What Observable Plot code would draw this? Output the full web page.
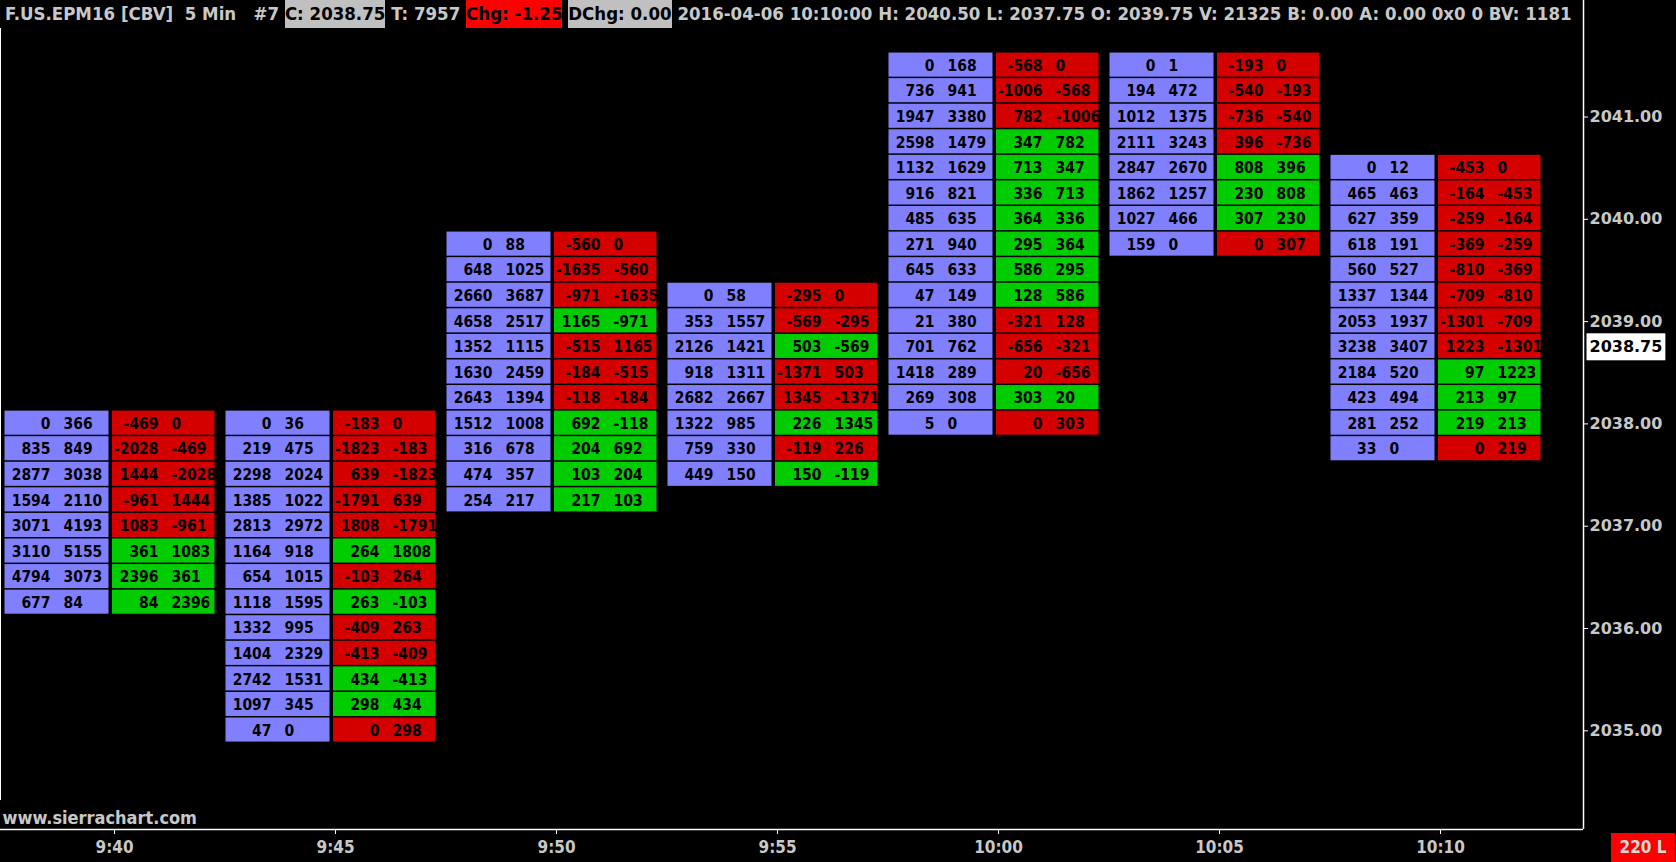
<!DOCTYPE html>
<html>
<head>
<meta charset="utf-8">
<script src="https://cdn.jsdelivr.net/npm/d3@7"></script>
<script src="https://cdn.jsdelivr.net/npm/@observablehq/plot@0.6"></script>
<style>
html, body { margin: 0; padding: 0; background: #000; }
#wrap { position: relative; width: 1676px; height: 862px; overflow: hidden; background: #000; }
#hdr { position: absolute; left: 0; top: 0; width: 1583px; height: 28px; overflow: hidden; white-space: pre;
  font: bold 18.5px "DejaVu Sans Condensed", "DejaVu Sans", sans-serif; color: #c8c8c8; line-height: 28px; padding-left: 5px; box-sizing: border-box; }
#hdr .gray { background: #c0c0c0; color: #000; display: inline-block; height: 28px; }
#hdr .red { background: #ff0000; color: #000; display: inline-block; height: 28px; }
#bars { position: absolute; left: 1611px; top: 833px; width: 64px; height: 29px; background: #ff0000; color: #d8d8d8;
  font: bold 17px "DejaVu Sans Condensed", sans-serif; line-height: 29px; text-align: center; }
#leftline { position: absolute; left: 0; top: 28px; width: 1px; height: 772px; background: #fff; }
svg { display: block; }
</style>
</head>
<body>
<div id="wrap">
  <div id="chart"></div>
  <div id="leftline"></div>
  <div id="hdr"></div>
  <div id="bars"></div>
</div>
<script>
// ---------------- DATA ----------------
const headerParts = ["F.US.EPM16 [CBV]  5 Min   #7 ", "C: 2038.75", " T: 7957 ", "Chg: -1.25", " ", "DChg: 0.00",
  " 2016-04-06 10:10:00 H: 2040.50 L: 2037.75 O: 2039.75 V: 21325 B: 0.00 A: 0.00 0x0 0 BV: 1181"];
const barCountLabel = "220 L";
const watermark = "www.sierrachart.com";
const lastPrice = 2038.75;
const priceTick = 0.25;

const barTimes = ["9:40", "9:45", "9:50", "9:55", "10:00", "10:05", "10:10"];
const barTopPrice = [2038.00, 2038.00, 2039.75, 2039.25, 2041.50, 2041.50, 2040.50];

const bidVol = [
  [0, 835, 2877, 1594, 3071, 3110, 4794, 677],
  [0, 219, 2298, 1385, 2813, 1164, 654, 1118, 1332, 1404, 2742, 1097, 47],
  [0, 648, 2660, 4658, 1352, 1630, 2643, 1512, 316, 474, 254],
  [0, 353, 2126, 918, 2682, 1322, 759, 449],
  [0, 736, 1947, 2598, 1132, 916, 485, 271, 645, 47, 21, 701, 1418, 269, 5],
  [0, 194, 1012, 2111, 2847, 1862, 1027, 159],
  [0, 465, 627, 618, 560, 1337, 2053, 3238, 2184, 423, 281, 33]
];
const askVol = [
  [366, 849, 3038, 2110, 4193, 5155, 3073, 84],
  [36, 475, 2024, 1022, 2972, 918, 1015, 1595, 995, 2329, 1531, 345, 0],
  [88, 1025, 3687, 2517, 1115, 2459, 1394, 1008, 678, 357, 217],
  [58, 1557, 1421, 1311, 2667, 985, 330, 150],
  [168, 941, 3380, 1479, 1629, 821, 635, 940, 633, 149, 380, 762, 289, 308, 0],
  [1, 472, 1375, 3243, 2670, 1257, 466, 0],
  [12, 463, 359, 191, 527, 1344, 1937, 3407, 520, 494, 252, 0]
];
const deltaNow = [
  [-469, -2028, 1444, -961, 1083, 361, 2396, 84],
  [-183, -1823, 639, -1791, 1808, 264, -103, 263, -409, -413, 434, 298, 0],
  [-560, -1635, -971, 1165, -515, -184, -118, 692, 204, 103, 217],
  [-295, -569, 503, -1371, 1345, 226, -119, 150],
  [-568, -1006, 782, 347, 713, 336, 364, 295, 586, 128, -321, -656, 20, 303, 0],
  [-193, -540, -736, 396, 808, 230, 307, 0],
  [-453, -164, -259, -369, -810, -709, -1301, 1223, 97, 213, 219, 0]
];
const deltaPrev = [
  [0, -469, -2028, 1444, -961, 1083, 361, 2396],
  [0, -183, -1823, 639, -1791, 1808, 264, -103, 263, -409, -413, 434, 298],
  [0, -560, -1635, -971, 1165, -515, -184, -118, 692, 204, 103],
  [0, -295, -569, 503, -1371, 1345, 226, -119],
  [0, -568, -1006, 782, 347, 713, 336, 364, 295, 586, 128, -321, -656, 20, 303],
  [0, -193, -540, -736, 396, 808, 230, 307],
  [0, -453, -164, -259, -369, -810, -709, -1301, 1223, 97, 213, 219]
];
// 1 = up (green cell), 0 = down (red cell)
const deltaUp = [
  [0, 0, 0, 0, 0, 1, 1, 1],
  [0, 0, 0, 0, 0, 1, 0, 1, 0, 0, 1, 1, 0],
  [0, 0, 0, 1, 0, 0, 0, 1, 1, 1, 1],
  [0, 0, 1, 0, 0, 1, 0, 1],
  [0, 0, 0, 1, 1, 1, 1, 1, 1, 1, 0, 0, 0, 1, 0],
  [0, 0, 0, 0, 1, 1, 1, 0],
  [0, 0, 0, 0, 0, 0, 0, 0, 1, 1, 1, 0]
];
const priceTicks = [2035, 2036, 2037, 2038, 2039, 2040, 2041];

// ---------------- BUILD ----------------
const minutes = s => { const [h, m] = s.split(":").map(Number); return h * 60 + m; };
const timeLabel = new Map(barTimes.map(s => [minutes(s), s]));
const rows = [];
barTimes.forEach((bt, i) => {
  bidVol[i].forEach((b, j) => {
    rows.push({
      t: minutes(bt), p: barTopPrice[i] - priceTick * j,
      bid: b, ask: askVol[i][j], dNow: deltaNow[i][j], dPrev: deltaPrev[i][j], up: deltaUp[i][j]
    });
  });
});

// layout (pixels)
const PXM = 44.2;        // px per minute
const PXP = 102.3;       // px per price point
const X0 = 580 - 114 / PXM, X1 = X0 + 1583 / PXM;
const YT = 2041 + 116.5 / PXP, YB = YT - 829 / PXP;
const BLUE_L = -109.5, BLUE_R = -5.5, RED_L = -2, RED_R = 100.5;
const cellFont = {fontFamily: "DejaVu Sans Condensed", fontWeight: "bold", fontSize: 15.5, fill: "#000"};
const GREEN = "#00cc00", RED = "#d40000", BLUE = "#8080ff";

const chart = Plot.plot({
  width: 1676, height: 862,
  marginLeft: 0, marginRight: 93, marginTop: 0, marginBottom: 33,
  style: {background: "#000", color: "#c8c8c8", overflow: "visible"},
  x: {domain: [X0, X1], axis: null, label: null},
  y: {domain: [YB, YT], axis: null, label: null},
  color: {type: "identity"},
  marks: [
    Plot.rect(rows, {x1: d => d.t + BLUE_L / PXM, x2: d => d.t + BLUE_R / PXM,
      y1: d => d.p - priceTick / 2, y2: d => d.p + priceTick / 2, fill: BLUE, insetBottom: 1.5}),
    Plot.rect(rows, {x1: d => d.t + RED_L / PXM, x2: d => d.t + RED_R / PXM,
      y1: d => d.p - priceTick / 2, y2: d => d.p + priceTick / 2, fill: d => d.up ? GREEN : RED, insetBottom: 1.5}),
    Plot.text(rows, {x: "t", y: "p", text: d => String(d.bid), textAnchor: "end", dx: -64, ...cellFont}),
    Plot.text(rows, {x: "t", y: "p", text: d => String(d.ask), textAnchor: "start", dx: -51, ...cellFont}),
    Plot.text(rows, {x: "t", y: "p", text: d => String(d.dNow), textAnchor: "end", dx: 44, ...cellFont}),
    Plot.text(rows, {x: "t", y: "p", text: d => String(d.dPrev), textAnchor: "start", dx: 57, ...cellFont}),
    Plot.ruleY([YB], {stroke: "#fff", strokeWidth: 1.5}),
    Plot.ruleX([X1], {stroke: "#fff", strokeWidth: 1.5}),
    Plot.axisX({ticks: barTimes.map(minutes), tickFormat: d => timeLabel.get(d), tickSize: 5, tickPadding: 6, label: null,
      stroke: "#fff", fill: "#c8c8c8", fontFamily: "DejaVu Sans Condensed", fontWeight: "bold", fontSize: 17}),
    Plot.axisY({anchor: "right", ticks: priceTicks, tickFormat: d3.format(".2f"), tickSize: 4, tickPadding: 2, label: null,
      stroke: "#fff", fill: "#c8c8c8", fontFamily: "DejaVu Sans", fontWeight: "bold", fontSize: 16}),
    Plot.text([lastPrice], {y: d => d, frameAnchor: "right", dx: 6, textAnchor: "start", text: d => d.toFixed(2),
      fill: "#000", fontFamily: "DejaVu Sans", fontWeight: "bold", fontSize: 16, ariaLabel: "lastpx", className: "lastpx"}),
    Plot.text([watermark], {frameAnchor: "bottom-left", dx: 2, dy: -6, textAnchor: "start", lineAnchor: "bottom",
      text: d => d, fill: "#c8c8c8", fontFamily: "DejaVu Sans Condensed", fontWeight: "bold", fontSize: 18})
  ]
});
document.getElementById("chart").appendChild(chart);

// white box behind last price label
let lpNode = chart.querySelector('g[aria-label="lastpx"] text') || chart.querySelector("g.lastpx text");
if (!lpNode) {
  lpNode = Array.from(chart.querySelectorAll("text")).find(t => t.textContent === lastPrice.toFixed(2));
}
if (lpNode) {
  const bb = lpNode.getBBox();
  const rect = document.createElementNS("http://www.w3.org/2000/svg", "rect");
  rect.setAttribute("x", bb.x - 3); rect.setAttribute("y", bb.y - 4);
  rect.setAttribute("width", bb.width + 6); rect.setAttribute("height", bb.height + 8);
  rect.setAttribute("fill", "#fff");
  const tr = lpNode.getAttribute("transform");
  if (tr) rect.setAttribute("transform", tr);
  lpNode.parentNode.insertBefore(rect, lpNode);
}

// header
const hdr = document.getElementById("hdr");
headerParts.forEach((s, i) => {
  const sp = document.createElement("span");
  sp.textContent = s;
  if (i === 1 || i === 5) sp.className = "gray";
  if (i === 3) sp.className = "red";
  hdr.appendChild(sp);
});
document.getElementById("bars").textContent = barCountLabel;
</script>
</body>
</html>
